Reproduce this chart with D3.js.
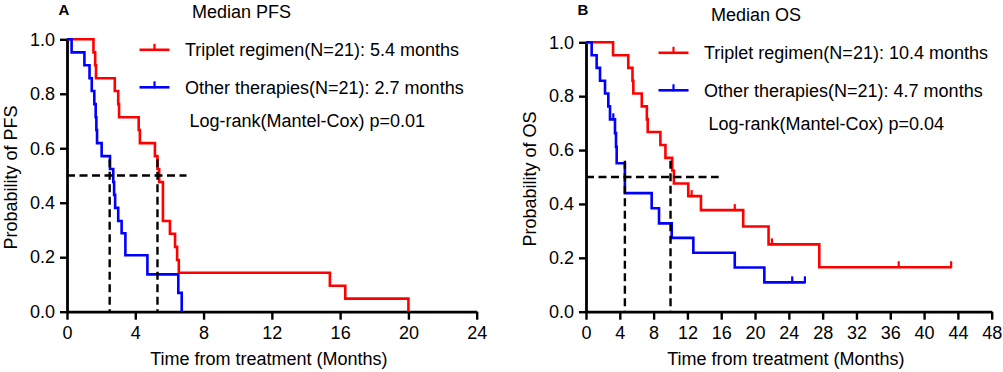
<!DOCTYPE html>
<html>
<head>
<meta charset="utf-8">
<script src="https://cdn.jsdelivr.net/npm/d3@7"></script>
<style>
body { margin: 0; background: #fff; }
svg text { font-family: "Liberation Sans", Arial, sans-serif; fill: #000; }
</style>
</head>
<body>
<svg id="canvas" width="1003" height="372"></svg>
<script>
// ---- data ----
var yTicks = [0, 0.2, 0.4, 0.6, 0.8, 1.0];
var pfsTicks = [0, 4, 8, 12, 16, 20, 24];
var osTicks = [0, 4, 8, 12, 16, 20, 24, 28, 32, 36, 40, 44, 48];

// [time (months), survival after the event]
var pfsTriplet = [[0, 1], [1.55, 0.952], [1.65, 0.905], [1.7, 0.857], [2.8, 0.810], [3.0, 0.762], [3.05, 0.714],
    [4.2, 0.667], [4.27, 0.619], [5.15, 0.571], [5.3, 0.524], [5.4, 0.476], [5.62, 0.333], [6.03, 0.286],
    [6.33, 0.238], [6.45, 0.190], [6.55, 0.143], [15.4, 0.095], [16.3, 0.048], [20.0, 0]];
var pfsTripletCensor = [];
var pfsOther = [[0, 1], [0.27, 0.952], [1.02, 0.905], [1.32, 0.857], [1.45, 0.810], [1.6, 0.762], [1.68, 0.714],
    [1.72, 0.667], [1.76, 0.619], [2.03, 0.571], [2.52, 0.524], [2.71, 0.476], [2.76, 0.429], [2.82, 0.381],
    [3.0, 0.333], [3.2, 0.288], [3.42, 0.207], [4.71, 0.137], [6.52, 0.069], [6.72, 0]];
var pfsOtherCensor = [];

var osTriplet = [[0, 1], [3.2, 0.952], [5.0, 0.905], [5.5, 0.857], [5.6, 0.810], [6.6, 0.762], [7.2, 0.714],
    [7.3, 0.667], [8.8, 0.619], [9.4, 0.571], [10.2, 0.524], [10.4, 0.476], [12.1, 0.429], [13.6, 0.377],
    [18.6, 0.316], [21.6, 0.25], [27.6, 0.165]];
var osTripletCensor = [12.5, 17.6, 22.0, 37.0, 43.2];
var osOther = [[0, 1], [0.67, 0.952], [1.26, 0.905], [1.66, 0.857], [2.25, 0.810], [2.64, 0.762], [2.84, 0.714],
    [3.43, 0.663], [3.55, 0.612], [3.63, 0.551], [4.6, 0.44], [7.77, 0.384], [8.64, 0.328], [10.14, 0.274],
    [12.7, 0.219], [17.6, 0.164], [21.1, 0.109]];
var osOtherCensor = [3.23, 24.4, 25.9];

var pfsMedianX = [2.5, 5.3];
var pfsHalfLineEnd = 7;
var osMedianX = [4.6, 10.0];
var osHalfLineEnd = 15.7;

var pfsTexts = ["Median PFS", "Triplet regimen(N=21): 5.4 months", "Other therapies(N=21): 2.7 months", "Log-rank(Mantel-Cox) p=0.01"];
var osTexts = ["Median OS", "Triplet regimen(N=21): 10.4 months", "Other therapies(N=21): 4.7 months", "Log-rank(Mantel-Cox) p=0.04"];

var RED = "#ff0000", BLUE = "#0000ff";

function survivalAt(curve, t) {
    var s = 1;
    curve.forEach(function(p) { if (p[0] <= t) { s = p[1]; } });
    return s;
}

function drawPanel(svg, cfg) {
    "use strict";
    var x = d3.scaleLinear().domain([0, cfg.xMax]).range([cfg.x0, cfg.x1]);
    var y = d3.scaleLinear().domain([0, 1]).range([cfg.yBot, cfg.yTop]);
    var g = svg.append('g');

    // axes
    var yAxis = d3.axisLeft(y).tickValues(yTicks).tickFormat(d3.format('.1f'))
        .tickSize(7).tickPadding(5).tickSizeOuter(0);
    var xAxis = d3.axisBottom(x).tickValues(cfg.ticks).tickFormat(d3.format('d'))
        .tickSize(8).tickPadding(7).tickSizeOuter(0);
    var ya = g.append('g').attr('transform', 'translate(' + cfg.x0 + ',0)').call(yAxis);
    var xa = g.append('g').attr('transform', 'translate(0,' + cfg.yBot + ')').call(xAxis);
    [ya, xa].forEach(function(a) {
        a.attr('font-size', 18).attr('font-family', '"Liberation Sans", Arial, sans-serif');
        a.select('.domain').attr('stroke', '#000').attr('stroke-width', 2.8);
        a.selectAll('.tick line').attr('stroke', '#000').attr('stroke-width', 2.4);
        a.selectAll('.tick text').attr('fill', '#000');
    });

    // survival curves
    var line = d3.line()
        .x(function(d) { return x(d[0]); })
        .y(function(d) { return y(d[1]); })
        .curve(d3.curveStepAfter);
    cfg.series.forEach(function(s) {
        var pts = s.curve.slice();
        var last = pts[pts.length - 1];
        var end = d3.max(s.censor.concat([last[0]]));
        if (end > last[0]) { pts.push([end, last[1]]); }
        g.append('path').datum(pts)
            .attr('d', line)
            .attr('fill', 'none')
            .attr('stroke', s.color)
            .attr('stroke-width', 2.6);
        g.selectAll(null).data(s.censor).enter().append('line')
            .attr('x1', function(t) { return x(t); })
            .attr('x2', function(t) { return x(t); })
            .attr('y1', function(t) { return y(survivalAt(s.curve, t)) + 1; })
            .attr('y2', function(t) { return y(survivalAt(s.curve, t)) - 6; })
            .attr('stroke', s.color)
            .attr('stroke-width', 2.2);
    });

    // median guide lines
    g.append('line')
        .attr('x1', x(0)).attr('x2', x(cfg.halfEnd))
        .attr('y1', y(0.5)).attr('y2', y(0.5))
        .attr('stroke', '#000').attr('stroke-width', 2.4).attr('stroke-dasharray', '8,4.5');
    g.selectAll(null).data(cfg.medians).enter().append('line')
        .attr('x1', function(d) { return x(d); })
        .attr('x2', function(d) { return x(d); })
        .attr('y1', y(0.56)).attr('y2', y(0))
        .attr('stroke', '#000').attr('stroke-width', 2.4).attr('stroke-dasharray', '8,4.5');

    // legend + annotations
    var t = cfg.texts;
    g.append('text').attr('x', cfg.x0 + 125).attr('y', cfg.yTop - 21).attr('font-size', 18).text(t[0]);
    cfg.series.forEach(function(s, i) {
        var ly = cfg.yTop + (i === 0 ? 10.5 : 48);
        g.append('line').attr('x1', cfg.x0 + 72.5).attr('x2', cfg.x0 + 102.5)
            .attr('y1', ly).attr('y2', ly).attr('stroke', s.color).attr('stroke-width', 2.6);
        g.append('line').attr('x1', cfg.x0 + 87.5).attr('x2', cfg.x0 + 87.5)
            .attr('y1', ly + 1).attr('y2', ly - 6).attr('stroke', s.color).attr('stroke-width', 2.2);
        g.append('text').attr('x', cfg.x0 + 118).attr('y', ly + 6.5).attr('font-size', 18).text(t[i + 1]);
    });
    g.append('text').attr('x', cfg.x0 + 122.5).attr('y', cfg.yTop + 87.5).attr('font-size', 18).text(t[3]);

    // axis titles
    g.append('text')
        .attr('transform', 'translate(' + (cfg.x0 - 50.5) + ',' + ((cfg.yTop + cfg.yBot) / 2 + 2) + ') rotate(-90)')
        .attr('text-anchor', 'middle').attr('font-size', 18).text(cfg.yTitle);
    g.append('text')
        .attr('x', (cfg.x0 + cfg.x1) / 2 - 3).attr('y', 365)
        .attr('text-anchor', 'middle').attr('font-size', 18).text('Time from treatment (Months)');

    // panel letter
    g.append('text').attr('x', cfg.x0 - 3).attr('y', 14.5).attr('text-anchor', 'middle')
        .attr('font-size', 15).attr('font-weight', 'bold').text(cfg.letter);
}

var svg = d3.select(document.getElementById('canvas'));

drawPanel(svg, {
    letter: 'A', x0: 67, x1: 476.7, yTop: 39.3, yBot: 311.7, xMax: 24, ticks: pfsTicks,
    yTitle: 'Probability of PFS', texts: pfsTexts, medians: pfsMedianX, halfEnd: pfsHalfLineEnd,
    series: [
        { curve: pfsTriplet, censor: pfsTripletCensor, color: RED },
        { curve: pfsOther, censor: pfsOtherCensor, color: BLUE }
    ]
});

drawPanel(svg, {
    letter: 'B', x0: 586, x1: 991.7, yTop: 42.3, yBot: 311.7, xMax: 48, ticks: osTicks,
    yTitle: 'Probability of OS', texts: osTexts, medians: osMedianX, halfEnd: osHalfLineEnd,
    series: [
        { curve: osTriplet, censor: osTripletCensor, color: RED },
        { curve: osOther, censor: osOtherCensor, color: BLUE }
    ]
});
</script>
</body>
</html>
